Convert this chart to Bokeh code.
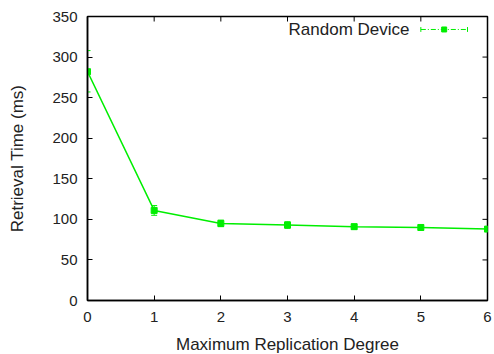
from bokeh.plotting import figure
from bokeh.models import Range1d, FixedTicker, Whisker, ColumnDataSource, Label
from bokeh.embed import file_html
from bokeh.resources import INLINE

degree = [0, 1, 2, 3, 4, 5, 6]
retrieval = [282, 111, 95, 93, 91, 90, 88]
err_low = [257, 105, 91, 89, 88, 87, 85]
err_high = [308, 117, 99, 97, 94, 93, 91]
series_name = "Random Device"
x_ticks = [0, 1, 2, 3, 4, 5, 6]
y_ticks = [0, 50, 100, 150, 200, 250, 300, 350]

GREEN = "#00ee00"
FONT = "Liberation Sans"
FW, FH = 400, 284
X0, X1, Y0, Y1 = 0, 6, 0, 350

src = ColumnDataSource(dict(x=degree, y=retrieval, lo=err_low, hi=err_high))

p = figure(width=494, height=354, output_backend="svg", toolbar_location=None,
           x_range=Range1d(X0, X1), y_range=Range1d(Y0, Y1),
           frame_width=FW, frame_height=FH,
           min_border_left=87, min_border_right=7, min_border_top=16, min_border_bottom=54,
           x_axis_label="Maximum Replication Degree", y_axis_label="Retrieval Time (ms)")
p.background_fill_color = "white"
p.border_fill_color = "white"
p.outline_line_color = "black"
p.outline_line_width = 1.5
p.grid.visible = False

for ax in (p.xaxis[0], p.yaxis[0]):
    ax.major_label_text_font = FONT
    ax.major_label_text_font_size = "15px"
    ax.major_label_text_color = "#222222"
    ax.axis_label_text_font = FONT
    ax.axis_label_text_font_size = "17px"
    ax.axis_label_text_font_style = "normal"
    ax.axis_label_text_color = "#222222"
    ax.major_tick_in = 5
    ax.major_tick_out = 0
    ax.minor_tick_line_color = None
    ax.axis_line_width = 1.5
    ax.major_tick_line_width = 1
p.xaxis.ticker = FixedTicker(ticks=x_ticks)
p.yaxis.ticker = FixedTicker(ticks=y_ticks)
p.xaxis.major_label_standoff = 11
p.yaxis.major_label_standoff = 10
p.xaxis.axis_label_standoff = 10
p.yaxis.axis_label_standoff = 22

# mirror ticks on top and right edges (5 px long, inward)
dy = 5 * (Y1 - Y0) / FH
dx = 5 * (X1 - X0) / FW
inner_x = x_ticks[1:-1]
inner_y = y_ticks[1:-1]
p.segment(inner_x, [Y1] * len(inner_x), inner_x, [Y1 - dy] * len(inner_x), line_color="black", line_width=1)
p.segment([X1] * len(inner_y), inner_y, [X1 - dx] * len(inner_y), inner_y, line_color="black", line_width=1)

p.line("x", "y", source=src, line_color=GREEN, line_width=1.5)
w = Whisker(source=src, base="x", lower="lo", upper="hi", line_color=GREEN, line_width=1)
w.upper_head.size = 6
w.lower_head.size = 6
w.upper_head.line_color = GREEN
w.lower_head.line_color = GREEN
p.add_layout(w)
p.scatter("x", "y", source=src, marker="square", size=6, fill_color=GREEN, line_color=GREEN)

# key (label on the left, sample on the right, gnuplot style)
kx0, kx1, ky = 5.0, 5.7, 334
p.line([kx0, kx1], [ky, ky], line_color=GREEN, line_width=1, line_dash="5 2 1 2")
p.segment([kx0, kx1], [ky - 3, ky - 3], [kx0, kx1], [ky + 3, ky + 3], line_color=GREEN, line_width=1)
p.scatter([(kx0 + kx1) / 2], [ky], marker="square", size=5, fill_color=GREEN, line_color=GREEN)
p.add_layout(Label(x=kx0 - 0.17, y=ky, text=series_name, text_align="right", text_baseline="middle",
                   text_font=FONT, text_font_size="17px", text_color="#222222"))

open("out.html", "w").write(file_html(p, INLINE))
